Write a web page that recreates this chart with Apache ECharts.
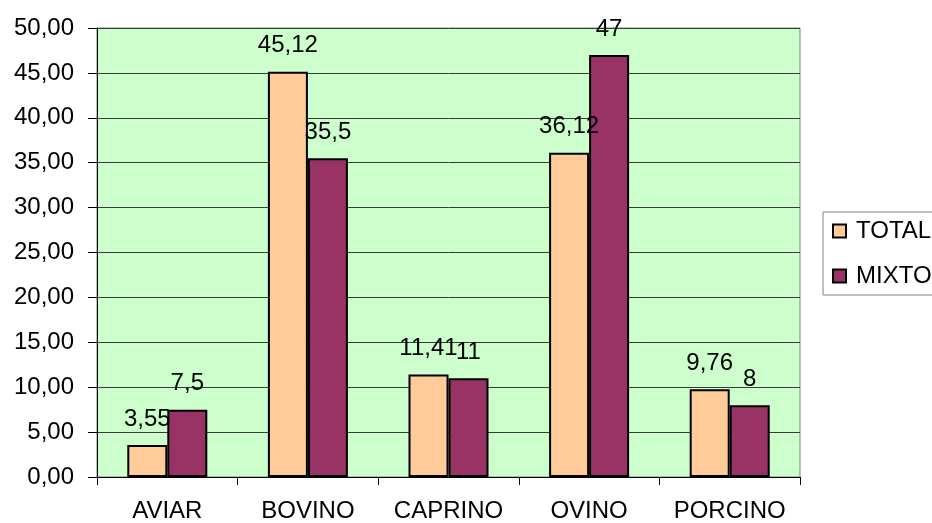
<!DOCTYPE html>
<html><head><meta charset="utf-8">
<script src="https://cdn.jsdelivr.net/npm/echarts@6/dist/echarts.min.js"></script>
<style>html,body{margin:0;padding:0;background:#fff}#c{width:932px;height:523px}</style>
</head><body><div id="c"></div>
<script>
const categories = ['AVIAR','BOVINO','CAPRINO','OVINO','PORCINO'];
const totalValues = [3.55, 45.12, 11.41, 36.12, 9.76];
const mixtoValues = [7.5, 35.5, 11, 47, 8];
const seriesNames = ['TOTAL','MIXTO'];
const yMin = 0, yMax = 50, yStep = 5;

const FONT = 'Liberation Sans, Arial, sans-serif';
const FS = 24;
const fmt = v => String(v).replace('.', ',');
const chart = echarts.init(document.getElementById('c'));
const labelCfg = {
  show: true, position: 'top', distance: 14, color: '#000',
  fontFamily: FONT, fontSize: FS,
  formatter: p => fmt(p.value)
};
chart.setOption({
  animation: false,
  grid: { left: 97, right: 132, top: 28, bottom: 46, show: true,
          backgroundColor: '#CCFFCC', borderColor: '#808080', borderWidth: 1 },
  legend: {
    orient: 'vertical', left: 823, top: 212,
    padding: [7, 40, 7, 9], itemGap: 21,
    itemWidth: 13, itemHeight: 13, icon: 'rect',
    borderColor: '#808080', borderWidth: 1,
    textStyle: { fontFamily: FONT, fontSize: FS, color: '#000', padding: [0,0,0,5] },
    data: seriesNames
  },
  xAxis: {
    type: 'category', data: categories,
    axisLine: { lineStyle: { color: '#000', width: 1 } },
    axisTick: { show: true, length: 8, lineStyle: { color: '#000' } },
    axisLabel: { color: '#000', fontFamily: FONT, fontSize: FS, margin: 22, interval: 0, hideOverlap: false }
  },
  yAxis: {
    type: 'value', min: yMin, max: yMax, interval: yStep,
    axisLine: { show: true, lineStyle: { color: '#000', width: 1 } },
    axisTick: { show: true, length: 9, lineStyle: { color: '#000' } },
    axisLabel: { color: '#000', fontFamily: FONT, fontSize: FS, margin: 23,
                 formatter: v => v.toFixed(2).replace('.', ',') },
    splitLine: { lineStyle: { color: '#3a3a3a', width: 1 } }
  },
  series: [
    { name: seriesNames[0], type: 'bar', data: totalValues, barWidth: 40, barGap: '0%',
      itemStyle: { color: '#FFCC99', borderColor: '#000', borderWidth: 2 }, label: labelCfg },
    { name: seriesNames[1], type: 'bar', data: mixtoValues, barWidth: 40, barGap: '0%',
      itemStyle: { color: '#993366', borderColor: '#000', borderWidth: 2 }, label: labelCfg }
  ]
});
</script></body></html>
